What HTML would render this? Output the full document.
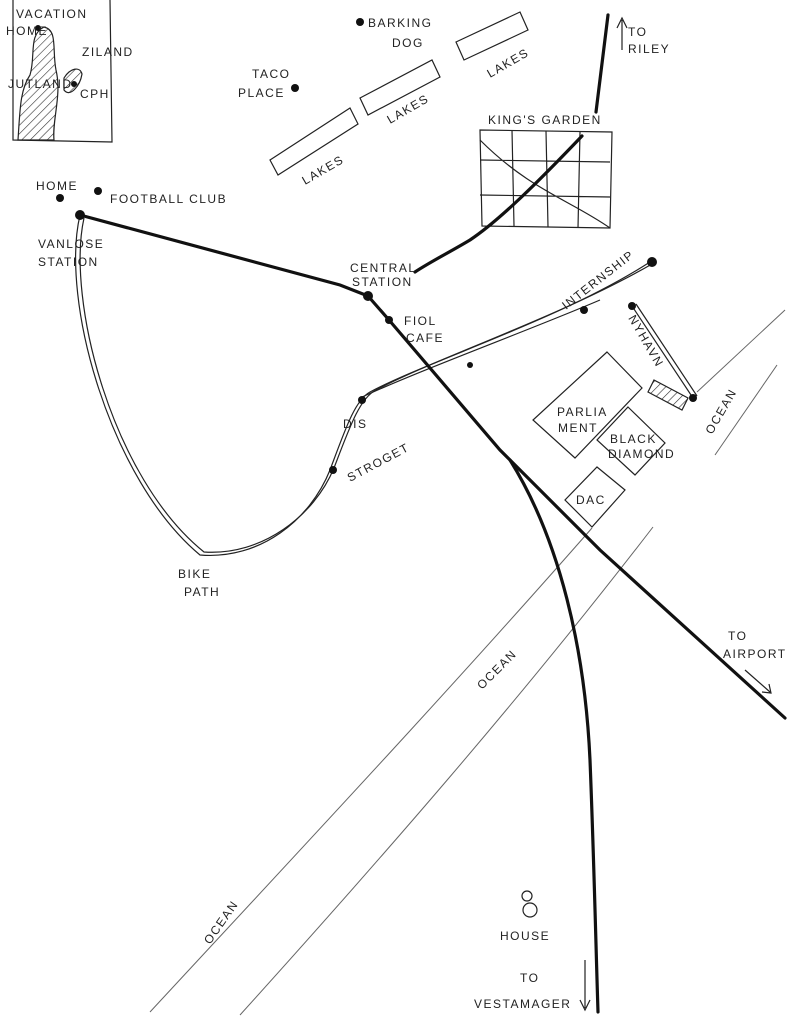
<!DOCTYPE html>
<html><head><meta charset="utf-8"><style>
html,body{margin:0;padding:0;background:#fff;}
svg{display:block;}
text{font-family:"Liberation Sans",sans-serif;fill:#222;font-size:12px;letter-spacing:1.5px;}
</style></head><body>
<svg width="795" height="1024" viewBox="0 0 795 1024" xmlns="http://www.w3.org/2000/svg">
<defs>
<pattern id="h" width="6" height="6" patternUnits="userSpaceOnUse" patternTransform="rotate(45)">
<line x1="0" y1="0" x2="0" y2="6" stroke="#333" stroke-width="1.2"/></pattern>
</defs>
<g fill="none" stroke="#222" stroke-width="1.2">
<!-- inset -->
<path d="M13 0 L13 140 L112 142 L110 0"/>
<path d="M18 140 C20 110 20 90 30 75 C36 55 28 35 44 27 C58 30 52 50 56 70 C62 95 52 120 54 140 Z" fill="url(#h)"/>
<path d="M64 78 C70 68 80 66 82 74 C80 86 70 98 64 90 Z" fill="url(#h)"/>
<!-- lakes -->
<path d="M270 160 L350 108 L358 124 L278 175 Z"/>
<path d="M360 98 L432 60 L440 77 L368 115 Z"/>
<path d="M456 42 L520 12 L528 30 L464 60 Z"/>
<!-- kings garden -->
<path d="M480 130 L612 132 L610 228 L482 226 Z"/>
<path d="M480 160 L610 162 M480 195 L610 197 M512 130 L514 226 M546 131 L548 227 M580 132 L578 228 M480 140 C530 190 570 200 610 228"/>
<!-- bike path -->
<path d="M80 215 C60 300 110 480 200 555 C260 560 310 520 330 470 C345 430 355 400 370 392 C430 360 560 320 650 262"/>
<path d="M84 218 C66 300 112 478 204 552 C262 556 314 516 334 468 C350 426 360 398 376 390 C436 358 562 316 652 264"/>
<path d="M360 398 C420 370 530 330 600 300"/>
<!-- nyhavn -->
<path d="M632 306 L693 398 M636 304 L697 396"/>
<!-- buildings -->
<path d="M607 352 L642 388 L575 458 L533 420 Z"/>
<path d="M628 407 L665 443 L635 475 L597 440 Z"/>
<path d="M597 467 L625 490 L592 527 L565 500 Z"/>
<path d="M654 380 L688 398 L682 410 L648 392 Z" fill="url(#h)"/>
<!-- arrows -->
<path d="M622 20 L622 50 M617 28 L622 18 L627 28"/>
<path d="M745 670 L770 692 M762 692 L771 693 L769 684"/>
<path d="M585 960 L585 1008 M580 1000 L585 1010 L590 1000"/>
<!-- house -->
<circle cx="527" cy="896" r="5"/><circle cx="530" cy="910" r="7"/>
</g>
<!-- ocean -->
<g fill="none" stroke="#666" stroke-width="1">
<path d="M150 1012 C300 850 450 690 592 528"/>
<path d="M240 1015 C380 860 520 700 653 527"/>
<path d="M697 392 L785 310"/>
<path d="M715 455 L777 365"/>
</g>
<g fill="none" stroke="#111" stroke-width="3.2" stroke-linecap="round">
<path d="M608 15 L596 112"/>
<path d="M582 136 C540 180 500 220 470 240 C450 252 430 262 415 272"/>
<path d="M80 215 L340 285 L368 296"/>
<path d="M368 296 L389 320 L500 450 L600 550 L785 718"/>
<path d="M510 460 C560 540 585 650 590 760 C594 860 596 950 598 1012"/>
</g>
<g fill="#111">
<circle cx="38" cy="28" r="3"/><circle cx="74" cy="84" r="3"/>
<circle cx="360" cy="22" r="4"/><circle cx="295" cy="88" r="4"/>
<circle cx="60" cy="198" r="4"/><circle cx="98" cy="191" r="4"/>
<circle cx="80" cy="215" r="5"/><circle cx="368" cy="296" r="5"/>
<circle cx="389" cy="320" r="4"/><circle cx="470" cy="365" r="3"/>
<circle cx="652" cy="262" r="5"/><circle cx="584" cy="310" r="4"/>
<circle cx="632" cy="306" r="4"/><circle cx="693" cy="398" r="4"/>
<circle cx="362" cy="400" r="4"/><circle cx="333" cy="470" r="4"/>
</g>
<text x="16" y="18" font-size="10">VACATION</text>
<text x="6" y="35" font-size="10">HOME</text>
<text x="82" y="56" font-size="11">ZILAND</text>
<text x="8" y="88" font-size="11">JUTLAND</text>
<text x="80" y="98" font-size="10">CPH</text>
<text x="368" y="27">BARKING</text>
<text x="392" y="47">DOG</text>
<text x="252" y="78">TACO</text>
<text x="238" y="97">PLACE</text>
<text transform="translate(305,185) rotate(-30)">LAKES</text>
<text transform="translate(390,124) rotate(-30)">LAKES</text>
<text transform="translate(490,78) rotate(-30)">LAKES</text>
<text x="628" y="36">TO</text>
<text x="628" y="53">RILEY</text>
<text x="488" y="124" font-size="11">KING'S GARDEN</text>
<text x="36" y="190">HOME</text>
<text x="110" y="203">FOOTBALL CLUB</text>
<text x="38" y="248">VANLOSE</text>
<text x="38" y="266">STATION</text>
<text x="350" y="272" font-size="11">CENTRAL</text>
<text x="352" y="286" font-size="11">STATION</text>
<text x="404" y="325">FIOL</text>
<text x="406" y="342">CAFE</text>
<text transform="translate(566,310) rotate(-38)" font-size="11">INTERNSHIP</text>
<text transform="translate(628,318) rotate(60)">NYHAVN</text>
<text x="557" y="416">PARLIA</text>
<text x="558" y="432">MENT</text>
<text x="610" y="443">BLACK</text>
<text x="608" y="458">DIAMOND</text>
<text x="576" y="504">DAC</text>
<text transform="translate(712,435) rotate(-60)">OCEAN</text>
<text x="343" y="428">DIS</text>
<text transform="translate(350,482) rotate(-28)">STROGET</text>
<text x="178" y="578">BIKE</text>
<text x="184" y="596">PATH</text>
<text transform="translate(482,690) rotate(-45)">OCEAN</text>
<text transform="translate(210,945) rotate(-55)">OCEAN</text>
<text x="728" y="640">TO</text>
<text x="723" y="658">AIRPORT</text>
<text x="500" y="940">HOUSE</text>
<text x="520" y="982">TO</text>
<text x="474" y="1008">VESTAMAGER</text>
</svg>
</body></html>
